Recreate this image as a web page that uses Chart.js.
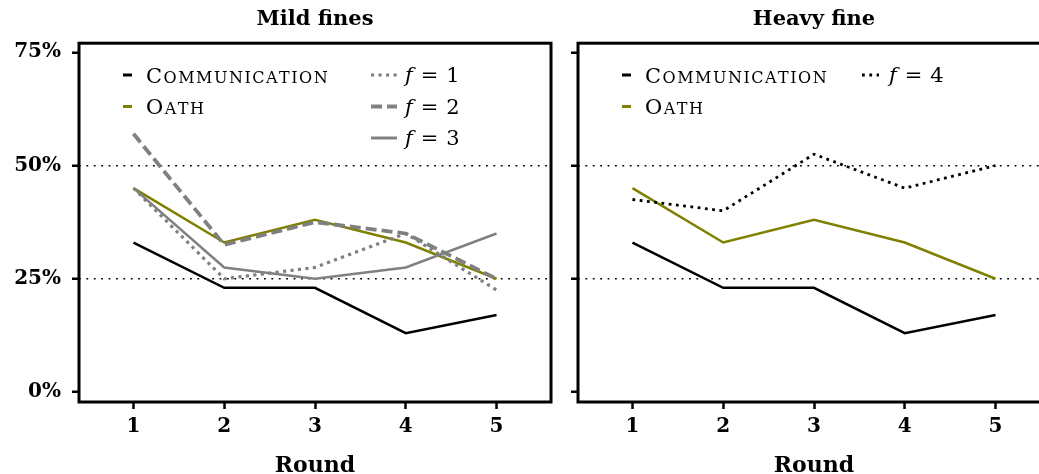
<!DOCTYPE html>
<html>
<head>
<meta charset="utf-8">
<script src="https://cdn.jsdelivr.net/npm/chart.js@4.4.0/dist/chart.umd.min.js"></script>
<style>
  html, body { margin: 0; padding: 0; background: #fff; overflow: hidden; width: 1039px; height: 474px; }
  .panel { position: absolute; top: 0; width: 560px; height: 490px; }
</style>
</head>
<body>
<div class="panel" style="left:0"><canvas id="mild" width="560" height="490"></canvas></div>
<div class="panel" style="left:560px"><canvas id="heavy" width="560" height="490"></canvas></div>
<script>
// values (percent per round)
var rounds = [1, 2, 3, 4, 5];
var communication = [33, 23, 23, 13, 17];
var oath = [45, 33, 38, 33, 25];
var fineOne = [45, 25, 27.5, 35, 22.5];
var fineTwo = [57, 32.5, 37.5, 35, 25];
var fineThree = [45, 27.5, 25, 27.5, 35];
var fineFour = [42.5, 40, 52.5, 45, 50];
var yTicks = [0, 25, 50, 75];
var refLines = [25, 50];

var OLIVE = '#808000', GREY = '#808080';
var serif = '"DejaVu Serif", serif';

// legend spots, canvas pixels
var legendLayout = {
    mild: [
        {ds: 0, sx: 123, len: 9, tx: 146, y: 75},
        {ds: 1, sx: 123, len: 9, tx: 146, y: 106.5},
        {ds: 2, sx: 371, len: 26, tx: 405, y: 75},
        {ds: 3, sx: 371, len: 26, tx: 405, y: 106.5},
        {ds: 4, sx: 371, len: 26, tx: 405, y: 138}
    ],
    heavy: [
        {ds: 0, sx: 62, len: 9, tx: 85, y: 75},
        {ds: 1, sx: 62, len: 9, tx: 85, y: 106.5},
        {ds: 2, sx: 302, len: 17, tx: 329, y: 75}
    ]
};

function pts(vals) {
    return rounds.map(function (r, i) { return {x: r, y: vals[i]}; });
}

function line(label, vals, color, width, dash, order) {
    return {
        label: label,
        data: pts(vals),
        borderColor: color,
        backgroundColor: color,
        borderWidth: width,
        borderDash: dash || [],
        borderCapStyle: 'butt',
        pointRadius: 0,
        fill: false,
        tension: 0,
        order: order
    };
}

function smallCaps(ctx, text, x, y, size) {
    var small = Math.round(size * 0.78);
    for (var i = 0; i < text.length; i++) {
        var ch = text[i];
        var big = ch === ch.toUpperCase();
        ch = ch.toUpperCase();
        ctx.font = (big ? size : small) + 'px ' + serif;
        ctx.fillText(ch, x, y);
        x += ctx.measureText(ch).width + 1.5;
    }
}

function mathLabel(ctx, label, x, y, size) {
    var n = label.split('=')[1].trim();
    ctx.font = 'italic ' + size + 'px ' + serif;
    ctx.fillText('f', x, y);
    x += ctx.measureText('f').width + 8;
    ctx.font = size + 'px ' + serif;
    ctx.fillText('=', x, y);
    x += ctx.measureText('=').width + 8;
    ctx.fillText(n, x, y);
}

var framePlugin = {
    id: 'frame',
    afterDatasetsDraw: function (chart) {
        var a = chart.chartArea, ctx = chart.ctx;
        ctx.save();
        ctx.strokeStyle = '#000';
        ctx.lineWidth = 3;
        ctx.strokeRect(a.left, a.top, a.right - a.left, a.bottom - a.top);
        ctx.restore();
    }
};

var legendPlugin = {
    id: 'insideLegend',
    afterDraw: function (chart) {
        var items = legendLayout[chart.canvas.id];
        var ctx = chart.ctx;
        items.forEach(function (it) {
            var ds = chart.data.datasets[it.ds];
            ctx.save();
            ctx.strokeStyle = ds.borderColor;
            ctx.lineWidth = Math.max(ds.borderWidth, 3);
            ctx.lineCap = 'butt';
            ctx.setLineDash(ds.borderDash || []);
            ctx.beginPath();
            ctx.moveTo(it.sx, it.y);
            ctx.lineTo(it.sx + it.len, it.y);
            ctx.stroke();
            ctx.restore();

            ctx.save();
            ctx.fillStyle = '#000';
            ctx.textBaseline = 'alphabetic';
            if (ds.label.indexOf('f =') === 0) {
                mathLabel(ctx, ds.label, it.tx, it.y + 7, 21);
            } else {
                smallCaps(ctx, ds.label, it.tx, it.y + 7.5, 21);
            }
            ctx.restore();
        });
    }
};

function makeScales(yWidth, showY) {
    return {
        x: {
            type: 'linear',
            min: 0.4,
            max: 5.6,
            afterBuildTicks: function (s) {
                s.ticks = rounds.map(function (v) { return {value: v}; });
            },
            afterFit: function (s) { s.height = 88; },
            grid: {color: 'rgba(0,0,0,0)', drawTicks: true, tickLength: 7, tickWidth: 2.5, tickColor: '#000'},
            border: {display: false},
            ticks: {
                color: '#000', padding: 6, maxRotation: 0, autoSkip: false,
                font: {family: serif, weight: 'bold', size: 20}
            },
            title: {
                display: true, text: 'Round', color: '#000',
                font: {family: serif, weight: 'bold', size: 22},
                padding: {top: 0, bottom: 11}
            }
        },
        y: {
            min: -2.2,
            max: 77,
            afterBuildTicks: function (s) {
                s.ticks = yTicks.map(function (v) { return {value: v}; });
            },
            afterFit: function (s) { s.width = yWidth; },
            grid: {
                color: function (c) {
                    return c.tick && refLines.indexOf(c.tick.value) >= 0 ? '#000' : 'rgba(0,0,0,0)';
                },
                lineWidth: 1.5, drawTicks: true, tickLength: 7, tickWidth: 2.5, tickColor: '#000'
            },
            border: {display: false, dash: [1.8, 5.6]},
            ticks: {
                display: showY, color: '#000', padding: 11,
                font: {family: serif, weight: 'bold', size: 20},
                callback: function (v) { return v + '%'; }
            }
        }
    };
}

function makeChart(id, title, datasets, padRight, yWidth, showY) {
    return new Chart(document.getElementById(id), {
        type: 'line',
        data: {datasets: datasets},
        options: {
            responsive: false,
            animation: false,
            events: [],
            layout: {padding: {left: 0, right: padRight, top: 0, bottom: 0}},
            plugins: {
                legend: {display: false},
                tooltip: {enabled: false},
                title: {
                    display: true, text: title, color: '#000', fullSize: false,
                    font: {family: serif, weight: 'bold', size: 21},
                    padding: {top: 7, bottom: 11}
                }
            },
            scales: makeScales(yWidth, showY)
        },
        plugins: [framePlugin, legendPlugin]
    });
}

var mildChart = makeChart('mild', 'Mild fines', [
    line('Communication', communication, '#000', 2.5, null, 5),
    line('Oath', oath, OLIVE, 2.5, null, 4),
    line('f = 1', fineOne, GREY, 3.2, [3.2, 4.3], 3),
    line('f = 2', fineTwo, GREY, 3.8, [11, 5], 2),
    line('f = 3', fineThree, GREY, 2.5, null, 1)
], 9, 79, true);

var heavyChart = makeChart('heavy', 'Heavy fine', [
    line('Communication', communication, '#000', 2.5, null, 3),
    line('Oath', oath, OLIVE, 2.5, null, 2),
    line('f = 4', fineFour, '#000', 2.8, [2.8, 4.5], 1)
], 70, 18, false);
</script>
</body>
</html>
